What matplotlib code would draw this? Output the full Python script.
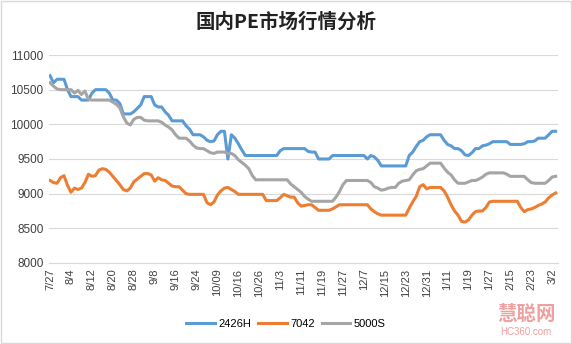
import matplotlib.pyplot as plt
from matplotlib.patches import Rectangle

plt.rcParams['font.family'] = ['Liberation Sans', 'Noto Sans CJK SC', 'DejaVu Sans']

tick_labels = ['7/27', '8/4', '8/12', '8/20', '8/28', '9/8', '9/16', '9/24', '10/09',
               '10/16', '10/26', '11/3', '11/11', '11/19', '11/27', '12/7', '12/15',
               '12/23', '12/31', '1/11', '1/19', '1/27', '2/15', '2/23', '3/2']

s2426h = [10700, 10600, 10650, 10650, 10650, 10500, 10400, 10400, 10400, 10350,
          10350, 10350, 10450, 10500, 10500, 10500, 10500, 10450, 10350, 10350,
          10300, 10150, 10150, 10150, 10180, 10230, 10280, 10400, 10400, 10400,
          10280, 10250, 10250, 10180, 10130, 10050, 10050, 10050, 10050, 9980,
          9930, 9850, 9850, 9850, 9820, 9770, 9750, 9760, 9850, 9900,
          9900, 9500, 9850, 9800, 9720, 9630, 9550, 9550, 9550, 9550,
          9550, 9550, 9550, 9550, 9550, 9550, 9620, 9650, 9650, 9650,
          9650, 9650, 9650, 9650, 9610, 9600, 9600, 9500, 9500, 9500,
          9500, 9550, 9550, 9550, 9550, 9550, 9550, 9550, 9550, 9550,
          9550, 9500, 9550, 9530, 9480, 9400, 9400, 9400, 9400, 9400,
          9400, 9400, 9400, 9550, 9600, 9680, 9750, 9770, 9820, 9850,
          9850, 9850, 9850, 9770, 9710, 9690, 9650, 9650, 9620, 9560,
          9550, 9590, 9650, 9650, 9690, 9700, 9720, 9750, 9750, 9750,
          9750, 9750, 9710, 9710, 9710, 9710, 9720, 9750, 9750, 9760,
          9800, 9800, 9800, 9850, 9900, 9900]

s7042 = [9190, 9160, 9150, 9230, 9260, 9120, 9020, 9080, 9060, 9080,
         9160, 9280, 9250, 9260, 9340, 9360, 9350, 9310, 9250, 9190,
         9130, 9060, 9040, 9080, 9170, 9210, 9250, 9290, 9290, 9270,
         9180, 9230, 9200, 9190, 9150, 9110, 9100, 9100, 9050, 9000,
         8990, 8990, 8990, 8990, 8990, 8870, 8840, 8880, 8980, 9040,
         9080, 9090, 9060, 9030, 8990, 8990, 8990, 8990, 8990, 8990,
         8990, 8990, 8900, 8900, 8900, 8900, 8940, 8990, 8970, 8950,
         8950, 8870, 8820, 8830, 8840, 8840, 8800, 8760, 8760, 8760,
         8760, 8780, 8810, 8840, 8840, 8840, 8840, 8840, 8840, 8840,
         8840, 8840, 8780, 8740, 8710, 8690, 8690, 8690, 8690, 8690,
         8690, 8690, 8690, 8790, 8880, 8960, 9100, 9130, 9070, 9090,
         9090, 9090, 9090, 9040, 8950, 8840, 8750, 8690, 8600, 8590,
         8620, 8690, 8740, 8750, 8750, 8800, 8880, 8890, 8890, 8890,
         8890, 8890, 8890, 8890, 8890, 8800, 8740, 8770, 8780, 8800,
         8830, 8850, 8880, 8940, 8980, 9010]

s5000s = [10600, 10550, 10510, 10500, 10500, 10500, 10500, 10450, 10490, 10430,
          10480, 10360, 10350, 10350, 10350, 10350, 10350, 10350, 10320, 10290,
          10240, 10110, 10020, 9990, 10070, 10100, 10100, 10060, 10050, 10050,
          10050, 10050, 10030, 9990, 9960, 9920, 9850, 9800, 9800, 9800,
          9760, 9700, 9660, 9650, 9650, 9620, 9590, 9580, 9600, 9600,
          9600, 9580, 9580, 9550, 9490, 9450, 9410, 9360, 9260, 9200,
          9200, 9200, 9200, 9200, 9200, 9200, 9200, 9200, 9200, 9140,
          9100, 9060, 9020, 8960, 8920, 8890, 8890, 8890, 8890, 8890,
          8890, 8890, 8950, 9030, 9130, 9190, 9190, 9190, 9190, 9190,
          9190, 9190, 9160, 9100, 9080, 9050, 9060, 9080, 9090, 9090,
          9150, 9180, 9190, 9200, 9270, 9330, 9350, 9360, 9400, 9440,
          9440, 9440, 9440, 9370, 9310, 9270, 9200, 9150, 9150, 9150,
          9170, 9190, 9190, 9210, 9240, 9280, 9300, 9300, 9300, 9300,
          9300, 9280, 9250, 9250, 9250, 9250, 9250, 9200, 9160, 9150,
          9150, 9150, 9150, 9190, 9240, 9250]

xs = range(len(s2426h))

fig = plt.figure(figsize=(5.72, 3.44), dpi=100)
ax = fig.add_axes([0.0857, 0.2355, 0.89, 0.6046])

ax.plot(xs, s2426h, color='#5B9BD5', lw=2.2, label='2426H', solid_joinstyle='round')
ax.plot(xs, s7042, color='#ED7D31', lw=2.2, label='7042', solid_joinstyle='round')
ax.plot(xs, s5000s, color='#A5A5A5', lw=2.2, label='5000S', solid_joinstyle='round')

ax.set_ylim(8000, 11000)
ax.set_yticks(range(8000, 11001, 500))
ax.set_xlim(-0.3, 145.7)
ax.set_xticks(range(0, 6 * len(tick_labels), 6))
ax.set_xticklabels(tick_labels, rotation=90, fontsize=8, color='#404040')
ax.tick_params(axis='y', labelsize=8.5, labelcolor='#404040', length=0, pad=4)
ax.tick_params(axis='x', length=0, pad=4)

ax.grid(axis='y', color='#d9d9d9', lw=0.8)
ax.set_axisbelow(True)
for s in ['top', 'right', 'left']:
    ax.spines[s].set_visible(False)
ax.spines['bottom'].set_color('#d9d9d9')

fig.text(0.5, 0.935, '国内PE市场行情分析', ha='center', va='center', fontsize=14,
         fontweight='bold', color='#222222', family=['Noto Sans CJK SC', 'DejaVu Sans'])

fig.legend(loc='center', bbox_to_anchor=(0.5, 0.058), ncol=3, frameon=False,
           fontsize=8, handlelength=2.6, columnspacing=0.6, handletextpad=0.3)

# watermark
fig.text(0.92, 0.085, '慧聪网', ha='center', va='center', fontsize=14, fontweight='bold',
         color='#e05050', alpha=0.55, family=['Noto Sans CJK SC', 'DejaVu Sans'])
fig.text(0.92, 0.035, 'HC360.com', ha='center', va='center', fontsize=7,
         color='#e05050', alpha=0.55)

fig.patches.append(Rectangle((0.001, 0.002), 0.997, 0.995, transform=fig.transFigure,
                             fill=False, edgecolor='#d9d9d9', lw=1))

plt.savefig('out.png', dpi=100)
